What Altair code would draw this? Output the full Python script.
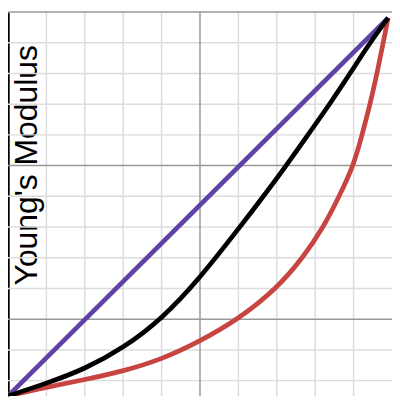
import altair as alt
import pandas as pd

# Grid positions (grid units)
x_minor = [1, 2, 3, 4, 6, 7, 8, 9]
x_major = [5]
y_minor = [0.5, 1.5, 3.5, 4.5, 5.5, 6.5, 8.5, 9.5, 10.5, 11.5]
y_major = [2.5, 7.5, 12.5]

# Curves
purple_x = [0, 9.9]
purple_y = [0, 12.31]

black_x = [0, 1, 2, 3, 4, 5, 6, 6.5, 7.25, 7.95, 8.35, 8.925, 9.425, 9.9]
black_y = [0, 0.41, 0.875, 1.56, 2.5, 3.84, 5.44, 6.25, 7.5, 8.75, 9.45, 10.53, 11.5, 12.31]

red_x = [0, 1, 2, 3, 4, 5, 6, 7, 7.68, 8.22, 8.625, 9.0, 9.22, 9.43, 9.61, 9.77, 9.9]
red_y = [0, 0.29, 0.53, 0.81, 1.19, 1.78, 2.5, 3.5, 4.5, 5.5, 6.5, 7.5, 8.5, 9.5, 10.5, 11.5, 12.31]

xs = alt.Scale(domain=[0, 10], nice=False, zero=False)
ys = alt.Scale(domain=[0, 12.5], nice=False, zero=False)

yaxis = alt.Axis(
    title="Young's Modulus", labels=False, ticks=False, grid=False,
    domain=True, domainColor="black", domainWidth=2.5,
    titleFontSize=32.5, titleFont="Liberation Sans", titleFontWeight="normal",
    titleColor="black", titleX=29, titleY=156, titleBaseline="alphabetic",
    titleAngle=270, titleAlign="center")

def vrules(vals, color, width):
    return alt.Chart(pd.DataFrame({"x": vals})).mark_rule(color=color, strokeWidth=width).encode(
        x=alt.X("x:Q", scale=xs, axis=None))

def hrules(vals, color, width):
    return alt.Chart(pd.DataFrame({"y": vals})).mark_rule(color=color, strokeWidth=width).encode(
        y=alt.Y("y:Q", scale=ys, axis=yaxis))

def curve(xv, yv, color):
    df = pd.DataFrame({"x": xv, "y": yv})
    return alt.Chart(df).mark_line(color=color, strokeWidth=4.8, interpolate="basis", clip=True).encode(
        x=alt.X("x:Q", scale=xs, axis=None),
        y=alt.Y("y:Q", scale=ys, axis=yaxis),
        order="x:Q")

chart = alt.layer(
    vrules(x_minor, "#dcdcdc", 1.5),
    hrules(y_minor, "#dcdcdc", 1.5),
    vrules(x_major, "#999999", 1.5),
    hrules(y_major, "#999999", 1.5),
    curve(purple_x, purple_y, "#6042a6"),
    curve(red_x, red_y, "#c74440"),
    curve(black_x, black_y, "#000000"),
).properties(width=392, height=392, padding=0, autosize="none").configure_view(stroke=None)

chart.save("out.html", embed_options={"renderer": "svg", "actions": False})
